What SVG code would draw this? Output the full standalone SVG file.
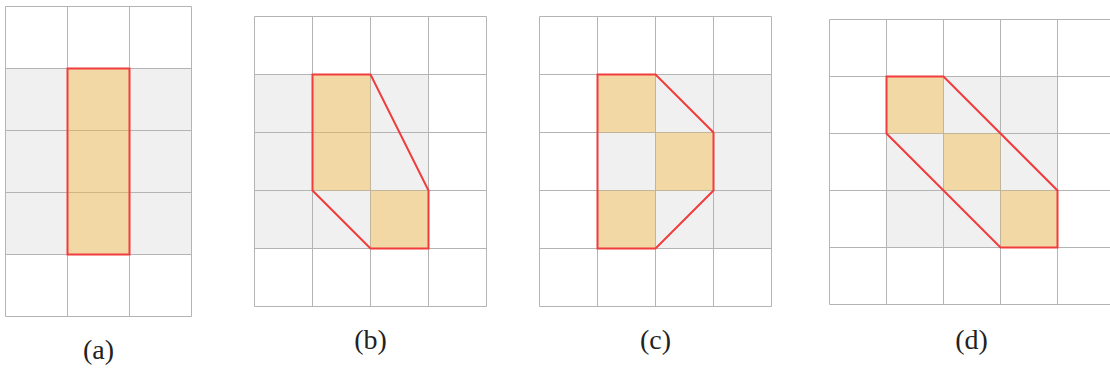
<svg xmlns="http://www.w3.org/2000/svg" width="1110" height="370" viewBox="0 0 1110 370">
<style>
.bg{fill:#f0f0f0}
.grid{fill:none;stroke:#b4b4b4;stroke-width:1}
.cell{fill:#f5b73c;fill-opacity:0.42}
.hull{fill:none;stroke:#f03c3c;stroke-width:2;stroke-linejoin:miter}
.lbl{font-family:"Liberation Serif","DejaVu Serif",serif;font-size:28px;fill:#222;text-anchor:middle}
</style>
<rect width="1110" height="370" fill="#ffffff"/>
<g id="panel-a">
<rect class="bg" x="5.5" y="68.5" width="186" height="186"/>
<path class="grid" d="M5.5 6.5V316.5M67.5 6.5V316.5M129.5 6.5V316.5M191.5 6.5V316.5M5.5 6.5H191.5M5.5 68.5H191.5M5.5 130.5H191.5M5.5 192.5H191.5M5.5 254.5H191.5M5.5 316.5H191.5"/>
<rect class="cell" x="67.5" y="68.5" width="62" height="186"/>
<polygon class="hull" points="67.5,68.5 129.5,68.5 129.5,254.5 67.5,254.5"/>
<text class="lbl" x="98.5" y="359">(a)</text>
</g>
<g id="panel-b">
<rect class="bg" x="254.5" y="74.5" width="174" height="174"/>
<path class="grid" d="M254.5 16.5V306.5M312.5 16.5V306.5M370.5 16.5V306.5M428.5 16.5V306.5M486.5 16.5V306.5M254.5 16.5H486.5M254.5 74.5H486.5M254.5 132.5H486.5M254.5 190.5H486.5M254.5 248.5H486.5M254.5 306.5H486.5"/>
<rect class="cell" x="312.5" y="74.5" width="58" height="116"/>
<rect class="cell" x="370.5" y="190.5" width="58" height="58"/>
<polygon class="hull" points="312.5,74.5 370.5,74.5 428.5,190.5 428.5,248.5 370.5,248.5 312.5,190.5"/>
<text class="lbl" x="370.5" y="349">(b)</text>
</g>
<g id="panel-c">
<rect class="bg" x="597.5" y="74.5" width="174" height="174"/>
<path class="grid" d="M539.5 16.5V306.5M597.5 16.5V306.5M655.5 16.5V306.5M713.5 16.5V306.5M771.5 16.5V306.5M539.5 16.5H771.5M539.5 74.5H771.5M539.5 132.5H771.5M539.5 190.5H771.5M539.5 248.5H771.5M539.5 306.5H771.5"/>
<rect class="cell" x="597.5" y="74.5" width="58" height="58"/>
<rect class="cell" x="655.5" y="132.5" width="58" height="58"/>
<rect class="cell" x="597.5" y="190.5" width="58" height="58"/>
<polygon class="hull" points="597.5,74.5 655.5,74.5 713.5,132.5 713.5,190.5 655.5,248.5 597.5,248.5"/>
<text class="lbl" x="655.5" y="349">(c)</text>
</g>
<g id="panel-d">
<rect class="bg" x="886.5" y="76.5" width="171" height="171"/>
<path class="grid" d="M829.5 19.5V304.5M886.5 19.5V304.5M943.5 19.5V304.5M1000.5 19.5V304.5M1057.5 19.5V304.5M1114.5 19.5V304.5M829.5 19.5H1114.5M829.5 76.5H1114.5M829.5 133.5H1114.5M829.5 190.5H1114.5M829.5 247.5H1114.5M829.5 304.5H1114.5"/>
<rect class="cell" x="886.5" y="76.5" width="57" height="57"/>
<rect class="cell" x="943.5" y="133.5" width="57" height="57"/>
<rect class="cell" x="1000.5" y="190.5" width="57" height="57"/>
<polygon class="hull" points="886.5,76.5 943.5,76.5 1057.5,190.5 1057.5,247.5 1000.5,247.5 886.5,133.5"/>
<text class="lbl" x="971.5" y="349">(d)</text>
</g>
<g id="connectors"></g>
</svg>
